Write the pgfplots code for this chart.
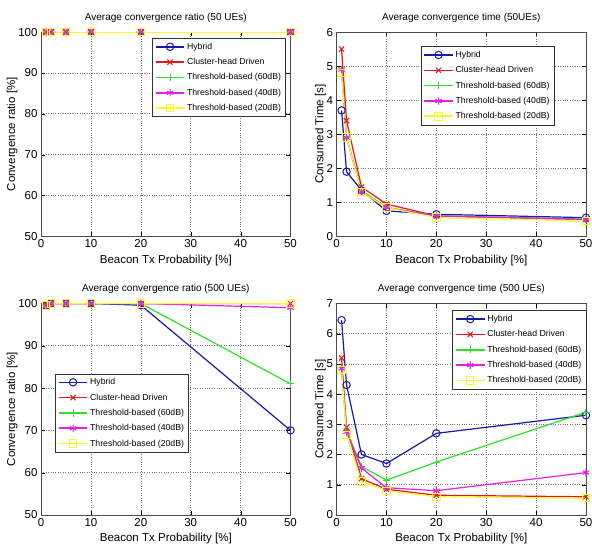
\documentclass[border=0pt]{standalone}
\usepackage{fontspec}
\setmainfont{Liberation Sans}
\usepackage{pgfplots}
\pgfplotsset{compat=1.18}
\usepgfplotslibrary{groupplots}

\definecolor{hyb}{RGB}{25,25,170}
\definecolor{chd}{RGB}{225,25,25}
\definecolor{tsixty}{RGB}{45,225,45}
\definecolor{tforty}{RGB}{225,35,225}
\definecolor{ttwenty}{RGB}{250,250,40}

\pgfplotsset{
  conv/.style={
    scale only axis, width=249pt, height=204pt,
    xmin=0, xmax=50, xtick={0,10,...,50},
    grid=major, major grid style={dotted, black!55, line width=0.6pt},
    tick align=inside, tick style={black}, axis line style={black!70},
    /pgf/number format/assume math mode=true,
    tick label style={font=\fontsize{11.5}{12}\selectfont},
    label style={font=\fontsize{11.5}{13}\selectfont},
    title style={font=\fontsize{10}{11}\selectfont, yshift=0pt},
    xlabel={Beacon Tx Probability [\%]},
    xlabel style={yshift=0pt}, ylabel style={yshift=-6pt},
    legend style={font=\fontsize{8.7}{10}\selectfont, draw=black!80, fill=white,
      inner sep=2.5pt, row sep=3.5pt, cells={anchor=west}},
    legend image code/.code={\draw[line width=1.6pt, mark repeat=2,mark phase=2]
      plot coordinates {(0cm,0cm)(0.5cm,0cm)(1cm,0cm)};},
    every axis plot/.append style={line width=1.2pt},
  },
  hy/.style={color=hyb, mark=o, mark size=3.7pt, mark options={solid,line width=1pt}},
  ch/.style={color=chd, mark=x, mark size=3.7pt, mark options={solid,line width=1pt}},
  t60/.style={color=tsixty, mark=+, mark size=3.7pt, mark options={solid,line width=1pt}},
  t40/.style={color=tforty, mark=asterisk, mark size=3.7pt, mark options={solid,line width=1pt}},
  t20/.style={color=ttwenty, mark=square, mark size=3.7pt, mark options={solid,line width=1pt}},
}

\begin{document}
\begin{tikzpicture}
\begin{groupplot}[group style={group size=2 by 2, horizontal sep=46pt, vertical sep=67pt},
  conv]
% 50 UEs, ratio
\nextgroupplot[title={Average convergence ratio (50 UEs)}, ylabel={Convergence ratio [\%]},
  ymin=50, ymax=100, ytick={50,60,...,100},
  every axis plot/.append style={line width=2pt},
  legend style={at={(0.981,0.97)}, anchor=north east}]
\addplot[hy]  coordinates {(1,100)(2,100)(5,100)(10,100)(20,100)(50,100)};
\addplot[ch]  coordinates {(1,100)(2,100)(5,100)(10,100)(20,100)(50,100)};
\addplot[t60] coordinates {(1,100)(2,100)(5,100)(10,100)(20,100)(50,100)};
\addplot[t40] coordinates {(1,100)(2,100)(5,100)(10,100)(20,100)(50,100)};
\addplot[t20] coordinates {(1,100)(2,100)(5,100)(10,100)(20,100)(50,100)};
\legend{Hybrid,Cluster-head Driven,Threshold-based (60dB),Threshold-based (40dB),Threshold-based (20dB)}
% 50 UEs, time
\nextgroupplot[title={Average convergence time (50UEs)}, ylabel={Consumed Time [s]},
  ymin=0, ymax=6, ytick={0,1,...,6},
  legend style={at={(0.873,0.93)}, anchor=north east}]
\addplot[hy]  coordinates {(1,3.7)(2,1.9)(5,1.35)(10,0.75)(20,0.65)(50,0.55)};
\addplot[ch]  coordinates {(1,5.5)(2,3.4)(5,1.45)(10,0.95)(20,0.6)(50,0.5)};
\addplot[t60] coordinates {(1,4.9)(2,2.9)(5,1.35)(10,0.85)(20,0.6)(50,0.5)};
\addplot[t40] coordinates {(1,4.9)(2,2.9)(5,1.3)(10,0.85)(20,0.6)(50,0.5)};
\addplot[t20] coordinates {(1,4.8)(2,2.9)(5,1.3)(10,0.85)(20,0.55)(50,0.45)};
\legend{Hybrid,Cluster-head Driven,Threshold-based (60dB),Threshold-based (40dB),Threshold-based (20dB)}
% 500 UEs, ratio
\nextgroupplot[title={Average convergence ratio (500 UEs)}, ylabel={Convergence ratio [\%]},
  ymin=50, ymax=100, ytick={50,60,...,100}, height=211pt,
  legend style={at={(0.057,0.668)}, anchor=north west}]
\addplot[hy]  coordinates {(1,99.5)(2,100)(5,100)(10,100)(20,99.6)(50,70)};
\addplot[ch]  coordinates {(1,99.6)(2,100)(5,100)(10,100)(20,100)(50,100)};
\addplot[t60] coordinates {(1,99.6)(2,100)(5,100)(10,100)(20,100)(50,81)};
\addplot[t40] coordinates {(1,99.5)(2,100)(5,100)(10,100)(20,100)(50,99)};
\addplot[t20] coordinates {(1,99.5)(2,100)(5,100)(10,100)(20,100)(50,100)};
\legend{Hybrid,Cluster-head Driven,Threshold-based (60dB),Threshold-based (40dB),Threshold-based (20dB)}
% 500 UEs, time
\nextgroupplot[title={Average convergence time (500 UEs)}, ylabel={Consumed Time [s]},
  ymin=0, ymax=7, ytick={0,1,...,7}, height=211pt,
  legend style={at={(1,0.967)}, anchor=north east}]
\addplot[hy]  coordinates {(1,6.45)(2,4.3)(5,2.0)(10,1.7)(20,2.7)(50,3.3)};
\addplot[ch]  coordinates {(1,5.2)(2,2.9)(5,1.2)(10,0.85)(20,0.65)(50,0.6)};
\addplot[t60] coordinates {(1,4.9)(2,2.8)(5,1.6)(10,1.15)(20,1.75)(50,3.4)};
\addplot[t40] coordinates {(1,4.85)(2,2.75)(5,1.55)(10,0.9)(20,0.8)(50,1.4)};
\addplot[t20] coordinates {(1,4.8)(2,2.65)(5,1.1)(10,0.8)(20,0.6)(50,0.55)};
\legend{Hybrid,Cluster-head Driven,Threshold-based (60dB),Threshold-based (40dB),Threshold-based (20dB)}
\end{groupplot}
\pgfresetboundingbox
\path[use as bounding box] ([xshift=-41pt,yshift=32pt]group c1r1.north west)
  rectangle ([xshift=6pt,yshift=-35pt]group c2r2.south east);
\end{tikzpicture}
\end{document}
